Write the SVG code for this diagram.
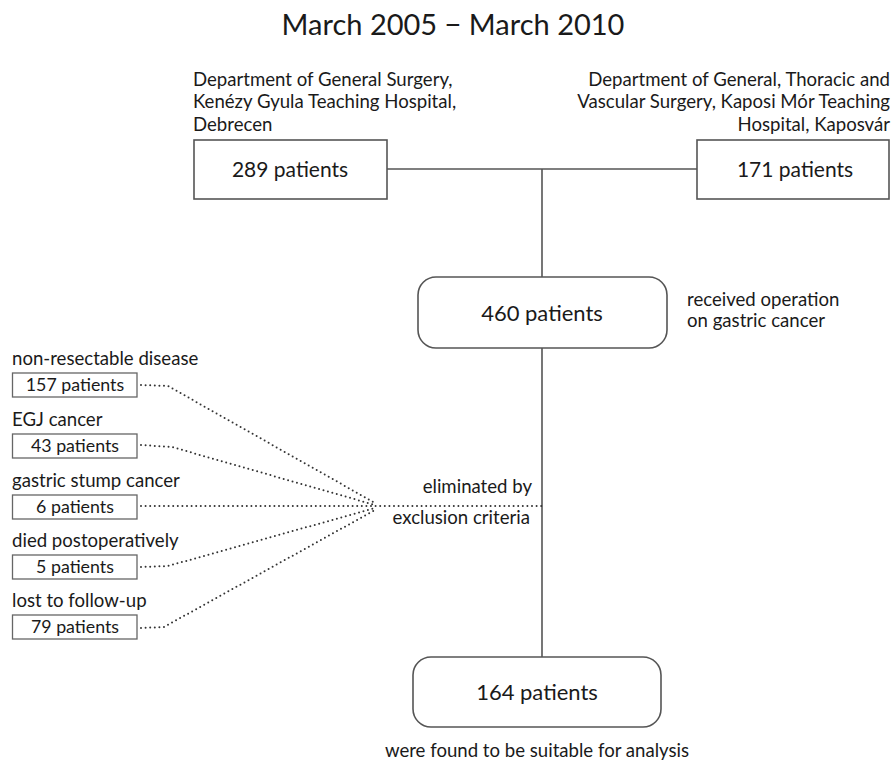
<svg xmlns="http://www.w3.org/2000/svg" width="895" height="762" viewBox="0 0 895 762">
<style>
text{font-family:Lato,"Open Sans","Liberation Sans",sans-serif;fill:#1a1a1a}
.box{fill:#fff;stroke:#555;stroke-width:1.6}
.sbox{fill:#fff;stroke:#666;stroke-width:1.3}
.line{stroke:#555;stroke-width:1.6;fill:none}
.dot{stroke:#333;stroke-width:2;fill:none;stroke-dasharray:0 4.6;stroke-linecap:round}
.lbl{font-size:18.6px}
.num{font-size:21px}
.big{font-size:22px}
.snum{font-size:17.8px}
</style>
<rect width="895" height="762" fill="#fff"/>
<text x="453" y="35" text-anchor="middle" font-size="29">March 2005 − March 2010</text>
<g id="connectors">
<path class="line" d="M387 169H697M542 169V277M542 348V657"/>
<path class="dot" d="M141 385L168 386L375 503"/>
<path class="dot" d="M141 445L172 447L375 505"/>
<path class="dot" d="M141 506H542"/>
<path class="dot" d="M141 567L168 566L375 508"/>
<path class="dot" d="M141 628L164 627L375 510"/>
</g>
<g id="debrecen">
<text class="lbl" x="193" y="86">Department of General Surgery,</text>
<text class="lbl" x="193" y="108">Kenézy Gyula Teaching Hospital,</text>
<text class="lbl" x="193" y="131">Debrecen</text>
<rect class="box" x="194" y="140" width="193" height="59"/>
<text class="num" x="290" y="177" text-anchor="middle">289 patients</text>
</g>
<g id="kaposvar">
<text class="lbl" x="890" y="86" text-anchor="end">Department of General, Thoracic and</text>
<text class="lbl" x="890" y="108" text-anchor="end">Vascular Surgery, Kaposi Mór Teaching</text>
<text class="lbl" x="890" y="131" text-anchor="end">Hospital, Kaposvár</text>
<rect class="box" x="697" y="140" width="192" height="59"/>
<text class="num" x="795" y="177" text-anchor="middle">171 patients</text>
</g>
<g id="operated">
<rect class="box" x="418" y="277" width="249" height="71" rx="18"/>
<text class="big" x="542" y="321" text-anchor="middle">460 patients</text>
<text class="lbl" x="687" y="306">received operation</text>
<text class="lbl" x="687" y="327">on gastric cancer</text>
</g>
<g id="excluded">
<text class="lbl" x="532" y="493" text-anchor="end">eliminated by</text>
<text class="lbl" x="530" y="524" text-anchor="end">exclusion criteria</text>
</g>
<g id="nonresectable">
<text class="lbl" x="12" y="365">non-resectable disease</text>
<rect class="sbox" x="12.5" y="373" width="124.5" height="24"/>
<text class="snum" x="75" y="391" text-anchor="middle">157 patients</text>
</g>
<g id="egj">
<text class="lbl" x="12" y="426">EGJ cancer</text>
<rect class="sbox" x="12.5" y="434" width="124.5" height="24"/>
<text class="snum" x="75" y="452" text-anchor="middle">43 patients</text>
</g>
<g id="stump">
<text class="lbl" x="12" y="487">gastric stump cancer</text>
<rect class="sbox" x="12.5" y="495" width="124.5" height="24"/>
<text class="snum" x="75" y="513" text-anchor="middle">6 patients</text>
</g>
<g id="died">
<text class="lbl" x="12" y="547">died postoperatively</text>
<rect class="sbox" x="12.5" y="555" width="124.5" height="24"/>
<text class="snum" x="75" y="573" text-anchor="middle">5 patients</text>
</g>
<g id="lost">
<text class="lbl" x="12" y="607">lost to follow-up</text>
<rect class="sbox" x="12.5" y="615" width="124.5" height="24"/>
<text class="snum" x="75" y="633" text-anchor="middle">79 patients</text>
</g>
<g id="final">
<rect class="box" x="413" y="657" width="248" height="70" rx="18"/>
<text class="big" x="537" y="700" text-anchor="middle">164 patients</text>
<text class="lbl" x="537" y="757" text-anchor="middle">were found to be suitable for analysis</text>
</g>
</svg>
